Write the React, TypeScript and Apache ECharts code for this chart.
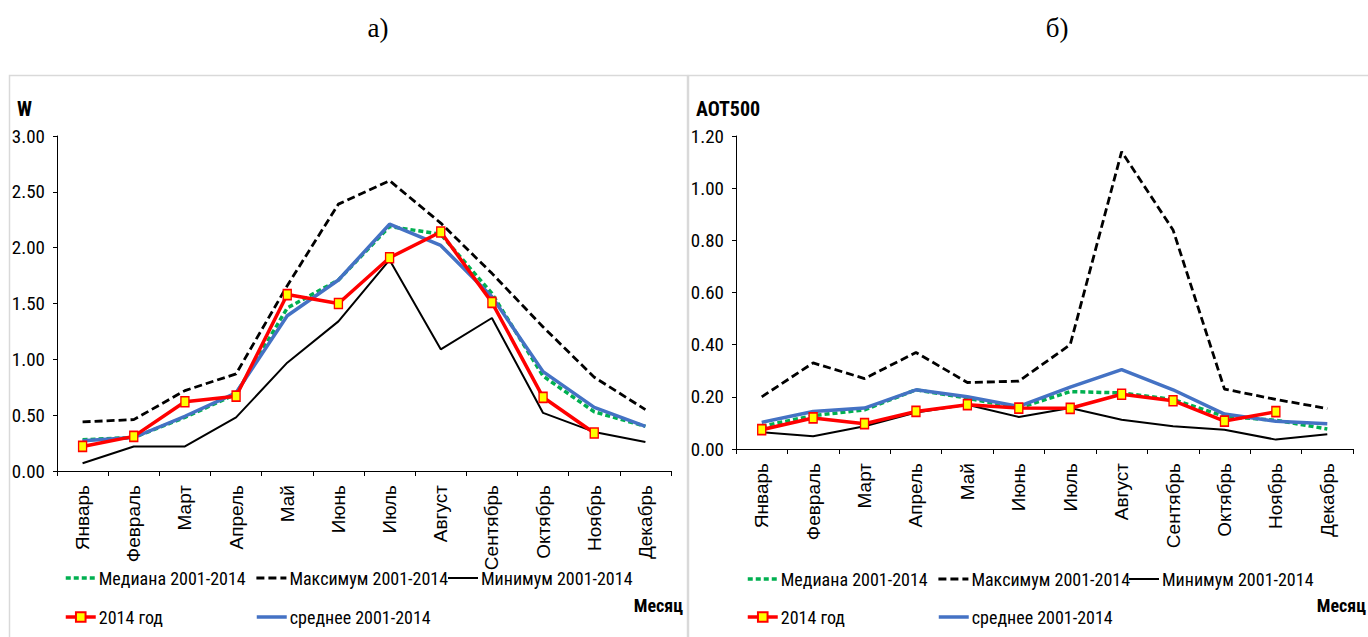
import React, { useEffect, useRef } from "react";
import * as echarts from "echarts";

const months = ["Январь", "Февраль", "Март", "Апрель", "Май", "Июнь", "Июль", "Август", "Сентябрь", "Октябрь", "Ноябрь", "Декабрь"];

// Panel а) — W
const wMedian = [0.28, 0.30, 0.48, 0.69, 1.46, 1.71, 2.19, 2.12, 1.59, 0.85, 0.53, 0.40];
const wMax = [0.44, 0.46, 0.72, 0.87, 1.66, 2.39, 2.60, 2.22, 1.77, 1.29, 0.84, 0.55];
const wMin = [0.07, 0.22, 0.22, 0.48, 0.97, 1.34, 1.89, 1.09, 1.37, 0.52, 0.35, 0.26];
const w2014 = [0.22, 0.31, 0.62, 0.67, 1.58, 1.50, 1.91, 2.14, 1.51, 0.66, 0.34, null];
const wMean = [0.27, 0.30, 0.49, 0.70, 1.39, 1.71, 2.21, 2.02, 1.56, 0.89, 0.57, 0.40];

// Panel б) — AOT500
const aMedian = [0.087, 0.128, 0.150, 0.227, 0.195, 0.157, 0.220, 0.215, 0.190, 0.125, 0.110, 0.077];
const aMax = [0.20, 0.33, 0.27, 0.37, 0.255, 0.26, 0.40, 1.14, 0.84, 0.23, 0.19, 0.155];
const aMin = [0.064, 0.049, 0.087, 0.140, 0.170, 0.123, 0.157, 0.112, 0.087, 0.074, 0.036, 0.057];
const a2014 = [0.074, 0.119, 0.097, 0.144, 0.170, 0.157, 0.156, 0.210, 0.185, 0.107, 0.143, null];
const aMean = [0.102, 0.144, 0.157, 0.227, 0.200, 0.163, 0.237, 0.304, 0.227, 0.134, 0.106, 0.097];

const wTicks = { min: 0, max: 3, interval: 0.5 };
const aTicks = { min: 0, max: 1.2, interval: 0.2 };

const names = {
  median: "Медиана 2001-2014",
  max: "Максимум 2001-2014",
  min: "Минимум 2001-2014",
  y2014: "2014 год",
  mean: "среднее 2001-2014",
};

const NARROW = "'Liberation Sans Narrow', 'Arial Narrow', 'Roboto Condensed', sans-serif";
const SANS = "'Liberation Sans', Arial, sans-serif";
const SERIF = "'Liberation Serif', 'Times New Roman', serif";

const styles: Record<string, any> = {
  max: { color: "#000", width: 2.8, type: [8, 4] },
  min: { color: "#000", width: 2 },
  median: { color: "#00b050", width: 3.5, type: [5, 3] },
  mean: { color: "#4472c4", width: 3.5 },
  y2014: { color: "#ff0000", width: 3.5 },
};

function seriesFor(idx: number, med: any[], mx: any[], mn: any[], y14: any[], mean: any[]) {
  const base = { type: "line", xAxisIndex: idx, yAxisIndex: idx, symbol: "none", silent: true };
  return [
    { ...base, name: names.max, data: mx, itemStyle: { color: "#000" }, lineStyle: styles.max },
    { ...base, name: names.min, data: mn, itemStyle: { color: "#000" }, lineStyle: styles.min },
    { ...base, name: names.median, data: med, itemStyle: { color: "#00b050" }, lineStyle: styles.median },
    { ...base, name: names.mean, data: mean, itemStyle: { color: "#4472c4" }, lineStyle: styles.mean },
    {
      ...base,
      name: names.y2014,
      data: y14,
      symbol: "rect",
      symbolSize: [8, 10],
      itemStyle: { color: "#ffff00", borderColor: "#ff0000", borderWidth: 1.5 },
      lineStyle: styles.y2014,
    },
  ];
}

function legendsFor(x0: number, x1: number, x2: number, top1: number, top2: number) {
  const mk = (key: string, left: number, top: number, showSymbol: boolean) => ({
    data: [
      showSymbol
        ? { name: (names as any)[key], lineStyle: { ...styles[key] } }
        : { name: (names as any)[key], itemStyle: { opacity: 0, borderWidth: 0 }, lineStyle: { ...styles[key] } },
    ],
    left,
    top,
    padding: 0,
    itemWidth: 30,
    itemHeight: 12,
    selectedMode: false,
    textStyle: { fontFamily: NARROW, fontSize: 18, color: "#000", padding: [0, 0, 0, -2] },
  });
  return [
    mk("median", x0, top1, false),
    mk("max", x1, top1, false),
    mk("min", x2, top1, false),
    mk("y2014", x0, top2, true),
    mk("mean", x1, top2, false),
  ];
}

function xAxisFor(idx: number) {
  return {
    type: "category",
    gridIndex: idx,
    data: months,
    boundaryGap: true,
    axisLine: { lineStyle: { color: "#000", width: 1 } },
    axisTick: { show: true, length: 5, lineStyle: { color: "#000" } },
    axisLabel: { rotate: 90, interval: 0, margin: 14, fontFamily: SANS, fontSize: 19, color: "#000" },
    splitLine: { show: false },
  };
}

function yAxisFor(idx: number, t: { min: number; max: number; interval: number }) {
  return {
    type: "value",
    gridIndex: idx,
    min: t.min,
    max: t.max,
    interval: t.interval,
    axisLine: { show: true, lineStyle: { color: "#000", width: 1 } },
    axisTick: { show: true, length: 4, lineStyle: { color: "#000" } },
    axisLabel: {
      margin: 12,
      fontFamily: NARROW,
      fontSize: 19,
      color: "#000",
      formatter: (v: number) => v.toFixed(2),
    },
    splitLine: { show: false },
  };
}

export default function App() {
  const ref = useRef<HTMLDivElement>(null);
  useEffect(() => {
    if (!ref.current) return;
    const chart = echarts.init(ref.current, undefined, { renderer: "svg" });
    chart.setOption({
      animation: false,
      backgroundColor: "#fff",
      grid: [
        { left: 57, top: 136, width: 614, height: 335 },
        { left: 736, top: 136, width: 617, height: 313 },
      ],
      xAxis: [xAxisFor(0), xAxisFor(1)],
      yAxis: [yAxisFor(0, wTicks), yAxisFor(1, aTicks)],
      legend: [...legendsFor(64, 255, 447, 569, 608), ...legendsFor(746, 937, 1128, 570, 608)],
      series: [
        ...seriesFor(0, wMedian, wMax, wMin, w2014, wMean),
        ...seriesFor(1, aMedian, aMax, aMin, a2014, aMean),
      ],
      graphic: [
        { type: "rect", silent: true, z: -10, shape: { x: 9.5, y: 75.5, width: 678, height: 600 }, style: { fill: "none", stroke: "#d9d9d9", lineWidth: 1.5 } },
        { type: "rect", silent: true, z: -10, shape: { x: 688.5, y: 75.5, width: 700, height: 600 }, style: { fill: "none", stroke: "#d9d9d9", lineWidth: 1.5 } },
        { type: "text", x: 378, y: 28, style: { text: "а)", font: `27px ${SERIF}`, fill: "#000", textAlign: "center", textVerticalAlign: "middle" } },
        { type: "text", x: 1057, y: 28, style: { text: "б)", font: `27px ${SERIF}`, fill: "#000", textAlign: "center", textVerticalAlign: "middle" } },
        { type: "text", x: 17, y: 109, style: { text: "W", font: `bold 20px ${NARROW}`, fill: "#000", textAlign: "left", textVerticalAlign: "middle" } },
        { type: "text", x: 696, y: 109, style: { text: "AOT500", font: `bold 20px ${NARROW}`, fill: "#000", textAlign: "left", textVerticalAlign: "middle" } },
        { type: "text", x: 683, y: 605, style: { text: "Месяц", font: `bold 18px ${NARROW}`, fill: "#000", textAlign: "right", textVerticalAlign: "middle" } },
        { type: "text", x: 1366, y: 605, style: { text: "Месяц", font: `bold 18px ${NARROW}`, fill: "#000", textAlign: "right", textVerticalAlign: "middle" } },
      ],
    });
    return () => chart.dispose();
  }, []);
  return <div ref={ref} style={{ position: "absolute", left: 0, top: 0, width: 1368, height: 637 }} />;
}
